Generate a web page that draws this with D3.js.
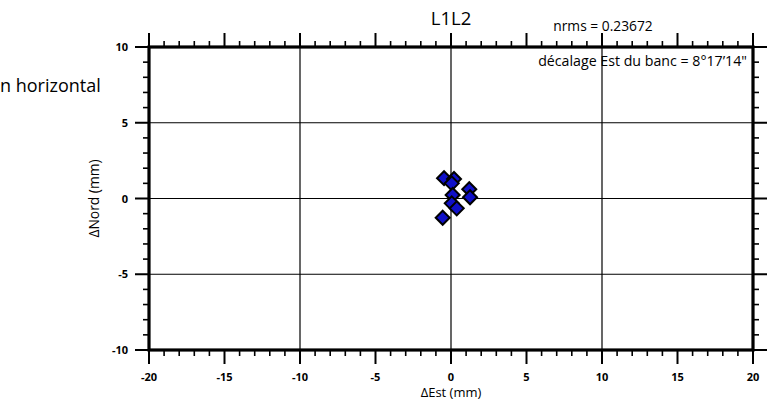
<!DOCTYPE html>
<html>
<head>
<meta charset="utf-8">
<script src="https://cdn.jsdelivr.net/npm/d3@7"></script>
<style>
  body { margin: 0; background: #fff; }
  text { font-family: 'Open Sans', sans-serif; }
</style>
</head>
<body>
<div id="chart"></div>
<script>
// values (mm)
const dEst = [-0.46, 0.20, 0.05, 1.21, 1.26, 0.11, 0.05, 0.38, -0.55]
const dNord = [1.34, 1.29, 1.0, 0.61, 0.08, 0.23, -0.32, -0.65, -1.27]
const xTicks = [-20, -15, -10, -5, 0, 5, 10, 15, 20]
const yTicks = [-10, -5, 0, 5, 10]
const xGrid = [-10, 0, 10]
const yGrid = [-5, 0, 5]
const title = 'L1L2'
const nrms = 'nrms = 0.23672'
const decalage = 'décalage Est du banc = 8°17’14"'

const dimensions = {
  width: 781,
  height: 406,
  margin: { top: 47, right: 28, bottom: 56, left: 149 }
}
const innerW = dimensions.width - dimensions.margin.left - dimensions.margin.right
const innerH = dimensions.height - dimensions.margin.top - dimensions.margin.bottom

const svg = d3.select('#chart').append('svg')
  .attr('width', dimensions.width)
  .attr('height', dimensions.height)

const bounds = svg.append('g')
  .attr('transform', `translate(${dimensions.margin.left}, ${dimensions.margin.top})`)

const x = d3.scaleLinear().domain([-20, 20]).range([0, innerW])
const y = d3.scaleLinear().domain([-10, 10]).range([innerH, 0])

// grid
bounds.selectAll('.gx').data(xGrid).join('line')
  .attr('x1', d => x(d)).attr('x2', d => x(d))
  .attr('y1', 0).attr('y2', innerH)
  .attr('stroke', '#000').attr('stroke-width', 1.2)
bounds.selectAll('.gy').data(yGrid).join('line')
  .attr('y1', d => y(d)).attr('y2', d => y(d))
  .attr('x1', 0).attr('x2', innerW)
  .attr('stroke', '#000').attr('stroke-width', 1.2)

// ticks on all four sides, pointing outward
const minorX = d3.range(-20, 21, 1)
const minorY = d3.range(-10, 11, 1)
const tickLen = v => (v % 5 === 0 ? 14 : 6)

function sideTicks (g, vals, horiz, pos, dir) {
  g.selectAll(null).data(vals).join('line')
    .attr('x1', d => horiz ? x(d) : pos)
    .attr('x2', d => horiz ? x(d) : pos + dir * tickLen(d))
    .attr('y1', d => horiz ? pos : y(d))
    .attr('y2', d => horiz ? pos + dir * tickLen(d) : y(d))
    .attr('stroke', '#000')
    .attr('stroke-width', d => d % 5 === 0 ? 2 : 1.6)
}
const ticks = bounds.append('g')
sideTicks(ticks, minorX, true, innerH, 1)
sideTicks(ticks, minorX, true, 0, -1)
sideTicks(ticks, minorY, false, 0, -1)
sideTicks(ticks, minorY, false, innerW, 1)

// frame
bounds.append('rect')
  .attr('width', innerW).attr('height', innerH)
  .attr('fill', 'none').attr('stroke', '#000').attr('stroke-width', 3.2)

// tick labels
bounds.selectAll('.xl').data(xTicks).join('text')
  .attr('x', d => x(d)).attr('y', innerH + 31)
  .attr('text-anchor', 'middle')
  .attr('font-size', 11).attr('font-weight', 700)
  .text(d => d)
bounds.selectAll('.yl').data(yTicks).join('text')
  .attr('x', -21).attr('y', d => y(d) + 4)
  .attr('text-anchor', 'end')
  .attr('font-size', 11).attr('font-weight', 700)
  .text(d => d)

// axis titles
bounds.append('text')
  .attr('x', x(0)).attr('y', innerH + 47)
  .attr('text-anchor', 'middle').attr('font-size', 13)
  .text('ΔEst (mm)')
bounds.append('text')
  .attr('transform', `translate(${-50}, ${y(0)}) rotate(-90)`)
  .attr('text-anchor', 'middle').attr('font-size', 13.8)
  .text('ΔNord (mm)')

// points
const pts = dEst.map((d, i) => ({ e: d, n: dNord[i] }))
bounds.selectAll('.pt').data(pts).join('path')
  .attr('d', 'M0,-7L7,0L0,7L-7,0Z')
  .attr('transform', d => `translate(${x(d.e)}, ${y(d.n)})`)
  .attr('fill', '#1010c8')
  .attr('stroke', '#000').attr('stroke-width', 2)

// texts
svg.append('text')
  .attr('x', dimensions.margin.left + x(0)).attr('y', 25)
  .attr('text-anchor', 'middle').attr('font-size', 18.5)
  .text(title)
svg.append('text')
  .attr('x', 603).attr('y', 31)
  .attr('text-anchor', 'middle').attr('font-size', 13.8)
  .text(nrms)
svg.append('text')
  .attr('x', 747).attr('y', 66)
  .attr('text-anchor', 'end').attr('font-size', 14.2)
  .text(decalage)
svg.append('text')
  .attr('x', 0).attr('y', 92)
  .attr('font-size', 18)
  .text('n horizontal')
</script>
</body>
</html>
